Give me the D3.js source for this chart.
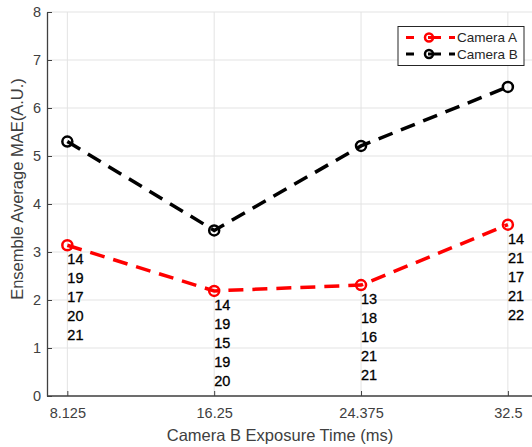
<!DOCTYPE html>
<html>
<head>
<meta charset="utf-8">
<script src="https://cdn.jsdelivr.net/npm/d3@7"></script>
<style>
  body { margin: 0; background: #fff; }
  svg { display: block; font-family: "Liberation Sans", Arial, sans-serif; }
</style>
</head>
<body>
<div id="chart"></div>
<script>
// exposure times on the x axis
const exposures = [8.125, 16.25, 24.375, 32.5];
const cameraA = [3.14, 2.19, 2.31, 3.57];
const cameraB = [5.30, 3.45, 5.21, 6.44];
// counts printed under each Camera A point
const counts = [
  [14, 19, 17, 20, 21],
  [14, 19, 15, 19, 20],
  [13, 18, 16, 21, 21],
  [14, 21, 17, 21, 22]
];
const yTicks = [0, 1, 2, 3, 4, 5, 6, 7, 8];

const series = [
  { name: 'Camera A', values: cameraA, color: '#ff0000' },
  { name: 'Camera B', values: cameraB, color: '#000000' }
];

const width = 532, height = 447;
const svg = d3.select('#chart').append('svg')
  .attr('width', width)
  .attr('height', height);

const x = d3.scaleLinear().domain([7, 34]).range([47, 535]);
const y = d3.scaleLinear().domain([0, 8]).range([396, 12]);

// grid
svg.append('g').selectAll('line.gy')
  .data(yTicks)
  .enter().append('line')
  .attr('x1', x(7)).attr('x2', width)
  .attr('y1', d => y(d)).attr('y2', d => y(d))
  .attr('stroke', '#e3e3e3').attr('stroke-width', 1);

svg.append('g').selectAll('line.gx')
  .data(exposures)
  .enter().append('line')
  .attr('x1', d => x(d)).attr('x2', d => x(d))
  .attr('y1', y(0)).attr('y2', y(8))
  .attr('stroke', '#e3e3e3').attr('stroke-width', 1);

// axes
const xAxis = svg.append('g')
  .attr('transform', `translate(0,${y(0)})`)
  .call(d3.axisBottom(x).tickValues(exposures).tickFormat(d => String(d)).tickSizeInner(-5).tickSizeOuter(0).tickPadding(12));
const yAxis = svg.append('g')
  .attr('transform', `translate(${x(7)},0)`)
  .call(d3.axisLeft(y).tickValues(yTicks).tickSizeInner(-5).tickSizeOuter(0).tickPadding(6));

[xAxis, yAxis].forEach(ax => {
  ax.select('.domain').attr('stroke', '#404040').attr('stroke-width', 1.3);
  ax.selectAll('.tick line').attr('stroke', '#404040');
  ax.selectAll('.tick text').attr('fill', '#404040').style('font-size', '14.5px');
});
xAxis.select('.domain').attr('d', `M${x(7)},0H${width}`);

// axis titles
svg.append('text')
  .attr('x', 280).attr('y', 441)
  .attr('text-anchor', 'middle')
  .attr('fill', '#404040')
  .style('font-size', '16.5px')
  .text('Camera B Exposure Time (ms)');

svg.append('text')
  .attr('transform', 'translate(23,189) rotate(-90)')
  .attr('text-anchor', 'middle')
  .attr('fill', '#404040')
  .style('font-size', '16.5px')
  .text('Ensemble Average MAE(A.U.)');

// lines and markers
const line = d3.line()
  .x((d, i) => x(exposures[i]))
  .y(d => y(d));

series.forEach(s => {
  svg.append('path')
    .datum(s.values)
    .attr('d', line)
    .attr('fill', 'none')
    .attr('stroke', s.color)
    .attr('stroke-width', 3.5)
    .attr('stroke-dasharray', '15,9');

  svg.append('g').selectAll('circle')
    .data(s.values)
    .enter().append('circle')
    .attr('cx', (d, i) => x(exposures[i]))
    .attr('cy', d => y(d))
    .attr('r', 5)
    .attr('fill', 'none')
    .attr('stroke', s.color)
    .attr('stroke-width', 2.5);
});

// count labels below camera A points
counts.forEach((col, i) => {
  const g = svg.append('g');
  g.selectAll('text')
    .data(col)
    .enter().append('text')
    .attr('x', x(exposures[i]))
    .attr('y', (d, j) => y(cameraA[i]) + 14 + j * 19)
    .attr('dy', '0.35em')
    .attr('fill', '#000')
    .attr('stroke', '#000')
    .attr('stroke-width', 0.3)
    .style('font-size', '14.5px')
    .text(d => d);
});

// legend
const legend = svg.append('g');
legend.append('rect')
  .attr('x', 398).attr('y', 26.5)
  .attr('width', 126).attr('height', 39)
  .attr('fill', '#fff')
  .attr('stroke', '#262626').attr('stroke-width', 1);

const items = legend.selectAll('g.item')
  .data(series)
  .enter().append('g')
  .attr('transform', (d, i) => `translate(0,${37.5 + i * 16.5})`);

items.append('line')
  .attr('x1', 406).attr('x2', 455)
  .attr('y1', 0).attr('y2', 0)
  .attr('stroke', d => d.color)
  .attr('stroke-width', 3)
  .attr('stroke-dasharray', '8,14,13');

items.append('circle')
  .attr('cx', 429).attr('cy', 0).attr('r', 4)
  .attr('fill', 'none')
  .attr('stroke', d => d.color)
  .attr('stroke-width', 2.5);

items.append('text')
  .attr('x', 457).attr('y', 0)
  .attr('dy', '0.35em')
  .attr('fill', '#262626')
  .style('font-size', '13.5px')
  .text(d => d.name);
</script>
</body>
</html>
